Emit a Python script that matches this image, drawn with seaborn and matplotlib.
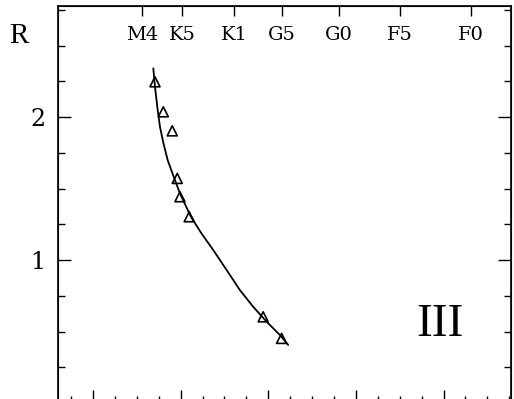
import matplotlib
matplotlib.use("Agg")
import matplotlib.pyplot as plt
import seaborn as sns
from matplotlib.ticker import MultipleLocator

# Giants (class III): radius vs effective temperature
teff_obs = [3707, 3802, 3904, 3961, 3992, 4098, 4942, 5152]
r_obs = [2.247, 2.037, 1.904, 1.571, 1.443, 1.303, 0.603, 0.452]

teff_fit = [3688, 3707, 3738, 3764, 3804, 3852, 3907, 3992, 4117, 4237,
            4372, 4525, 4676, 4828, 4981, 5132, 5227]
r_fit = [2.341, 2.212, 2.049, 1.932, 1.816, 1.699, 1.606, 1.466, 1.303, 1.187,
         1.070, 0.930, 0.790, 0.673, 0.569, 0.476, 0.406]

sp_types = ["M4", "K5", "K1", "G5", "G0", "F5", "F0"]
sp_teff = [3560, 4015, 4610, 5155, 5805, 6500, 7310]

sns.set_style("ticks")
plt.rcParams["font.family"] = ["DejaVu Serif"]
plt.rcParams.update({
    "text.color": "black", "axes.edgecolor": "black",
    "xtick.color": "black", "ytick.color": "black",
    "axes.labelcolor": "black",
})

fig = plt.figure(figsize=(5.14, 3.99), dpi=100)
ax = fig.add_axes([0.1128, -0.010, 0.8813, 0.996])

sns.lineplot(x=teff_fit, y=r_fit, sort=False, color="black", linewidth=1.3, ax=ax)
ax.lines[0].set_solid_joinstyle("round")
sns.scatterplot(x=teff_obs, y=r_obs, marker="^", s=52, facecolor="none",
                edgecolor="black", linewidth=1.2, ax=ax, zorder=3)

ax.set_xlim(2600, 7770)
ax.set_ylim(0, 2.78)
ax.xaxis.set_major_locator(MultipleLocator(1000))
ax.xaxis.set_minor_locator(MultipleLocator(250))
ax.yaxis.set_major_locator(MultipleLocator(1))
ax.yaxis.set_minor_locator(MultipleLocator(0.25))
ax.tick_params(axis="both", which="major", direction="in", length=9.4, width=1.0,
               top=False, right=True, labelsize=17, pad=9)
ax.tick_params(axis="both", which="minor", direction="in", length=5, width=1.0,
               top=False, right=True)
ax.tick_params(axis="x", which="both", labelbottom=False)
ax.set_yticks([1, 2])
ax.set_yticklabels(["1", "2"])
for sp in ax.spines.values():
    sp.set_linewidth(1.2)
ax.set_xlabel("")
ax.set_ylabel("")

# spectral types along the top
top = ax.twiny()
top.set_xlim(ax.get_xlim())
top.set_xticks(sp_teff)
top.set_xticklabels(sp_types)
top.tick_params(axis="x", direction="in", length=7.5, width=1.0, labelsize=14,
                pad=-27.5)
top.xaxis.set_minor_locator(plt.NullLocator())

ax.text(-0.086, 0.924, "R", transform=ax.transAxes, ha="center", va="center",
        fontsize=21, family=["Liberation Serif"])
ax.text(0.843, 0.196, "III", transform=ax.transAxes, ha="center", va="center",
        fontsize=34, family=["Liberation Serif"])

fig.savefig("out.png", dpi=100)
